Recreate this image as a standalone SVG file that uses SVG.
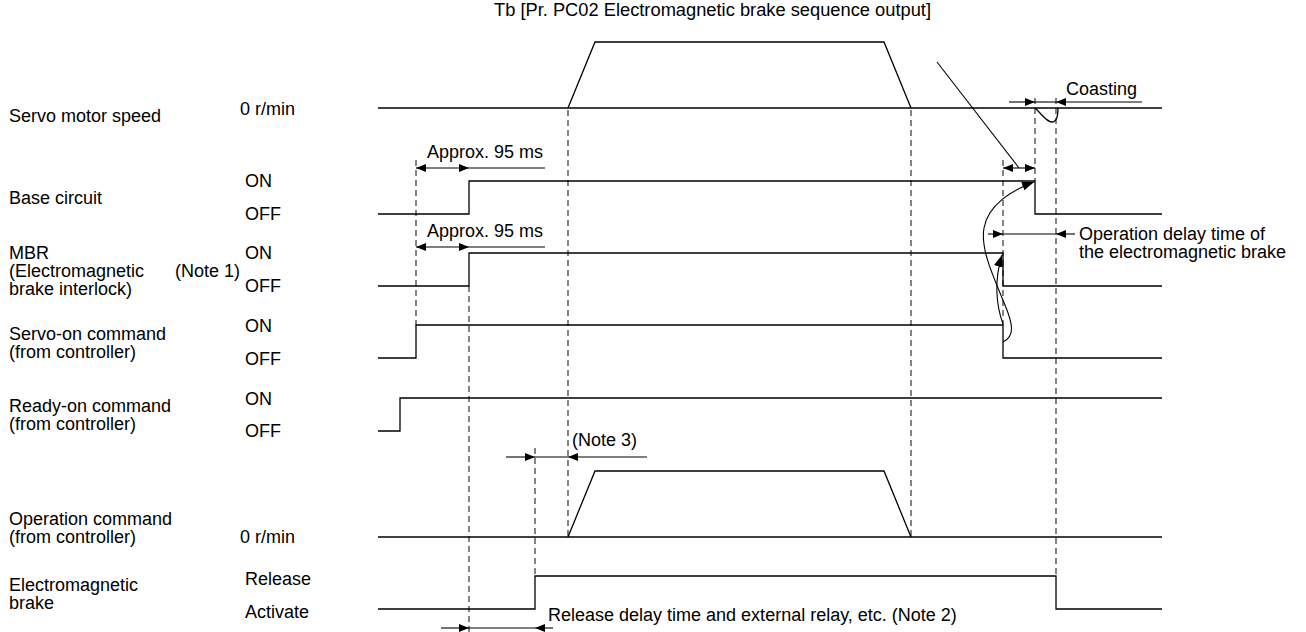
<svg xmlns="http://www.w3.org/2000/svg" width="1306" height="632" viewBox="0 0 1306 632">
<style>
text{font-family:"Liberation Sans",Arial,sans-serif;font-size:18px;fill:#000}
.sig{fill:none;stroke:#000;stroke-width:1.3}
.dash{fill:none;stroke:#333;stroke-width:1.2;stroke-dasharray:6 4}
.dim{fill:none;stroke:#000;stroke-width:1.1}
.arr{fill:none;stroke:#000;stroke-width:1.1;marker-end:url(#ah)}
.arr2{fill:none;stroke:#000;stroke-width:1.1;marker-start:url(#ah);marker-end:url(#ah)}
.crv{fill:none;stroke:#000;stroke-width:1.1;marker-end:url(#ahc)}
</style>
<defs>
<marker id="ah" markerUnits="userSpaceOnUse" markerWidth="10" markerHeight="8" viewBox="0 0 10 8" refX="10" refY="4" orient="auto-start-reverse">
<path d="M0,0 L10,4 L0,8 Z" fill="#000"/>
</marker>
<marker id="ahc" markerUnits="userSpaceOnUse" markerWidth="12" markerHeight="9" viewBox="0 0 12 9" refX="12" refY="4.5" orient="auto">
<path d="M0,0 L12,4.5 L0,9 Z" fill="#000"/>
</marker>
</defs>
<rect width="1306" height="632" fill="#fff"/>

<g id="guides">
<path class="dash" d="M416,160 V325"/>
<path class="dash" d="M469,286 V632"/>
<path class="dash" d="M535,448 V576"/>
<path class="dash" d="M568,110 V537"/>
<path class="dash" d="M911,110 V537"/>
<path class="dash" d="M1003,160 V325"/>
<path class="dash" d="M1035,98 V181"/>
<path class="dash" d="M1056,98 V576"/>
</g>

<g id="servo-motor-speed">
<text x="9" y="122">Servo motor speed</text>
<text x="240" y="115">0 r/min</text>
<path class="sig" d="M378,108 H1162"/>
<path class="sig" d="M568,108 L595,42 H884 L911,108"/>
<path class="sig" d="M1035,108 C1042,114 1046,122 1052,122 C1057,122 1058,114 1058,108"/>
</g>

<g id="base-circuit">
<text x="9" y="204">Base circuit</text>
<text x="245" y="187">ON</text>
<text x="245" y="220">OFF</text>
<path class="sig" d="M378,214 H469 V181 H1035 V214 H1162"/>
</g>

<g id="mbr">
<text x="9" y="259">MBR</text>
<text x="9" y="277">(Electromagnetic</text>
<text x="9" y="295">brake interlock)</text>
<text x="175" y="277">(Note 1)</text>
<text x="245" y="259">ON</text>
<text x="245" y="292">OFF</text>
<path class="sig" d="M378,286 H469 V253 H1003 V286 H1162"/>
</g>

<g id="servo-on">
<text x="9" y="340">Servo-on command</text>
<text x="9" y="358">(from controller)</text>
<text x="245" y="332">ON</text>
<text x="245" y="365">OFF</text>
<path class="sig" d="M378,358 H416 V325 H1003 V358 H1162"/>
</g>

<g id="ready-on">
<text x="9" y="412">Ready-on command</text>
<text x="9" y="430">(from controller)</text>
<text x="245" y="405">ON</text>
<text x="245" y="437">OFF</text>
<path class="sig" d="M378,431 H400 V398 H1162"/>
</g>

<g id="operation-command">
<text x="9" y="525">Operation command</text>
<text x="9" y="543">(from controller)</text>
<text x="240" y="543">0 r/min</text>
<path class="sig" d="M378,537 H1162"/>
<path class="sig" d="M568,537 L595,471 H884 L911,537"/>
</g>

<g id="electromagnetic-brake">
<text x="9" y="591">Electromagnetic</text>
<text x="9" y="609">brake</text>
<text x="245" y="585">Release</text>
<text x="245" y="618">Activate</text>
<path class="sig" d="M378,609 H535 V576 H1056 V609 H1162"/>
</g>

<g id="connectors">
<path class="arr2" d="M416,168 H469"/>
<path class="dim" d="M469,168 H545"/>
<text x="427" y="158">Approx. 95 ms</text>
<path class="arr2" d="M416,247 H469"/>
<path class="dim" d="M469,247 H545"/>
<text x="427" y="237">Approx. 95 ms</text>
<path class="arr2" d="M1003,168 H1035"/>
<path class="dim" d="M937,62 L1019,168"/>
<text x="494" y="16" style="font-size:18.3px">Tb [Pr. PC02 Electromagnetic brake sequence output]</text>
<path class="arr" d="M1009,102 H1035"/>
<path class="dim" d="M1035,102 H1056"/>
<path class="arr" d="M1142,102 H1056"/>
<text x="1066" y="95">Coasting</text>
<path class="arr" d="M988,234 H1003"/>
<path class="dim" d="M1003,234 H1056"/>
<path class="arr" d="M1075,234 H1056"/>
<text x="1079" y="240">Operation delay time of</text>
<text x="1079" y="258">the electromagnetic brake</text>
<path class="crv" d="M1003,342 C1016,336 1012,322 1005,305 C995,280 980,250 984,228 C988,205 1012,190 1034,182"/>
<path class="crv" d="M1003,324 C996,305 994,280 1002,255"/>
<path class="arr" d="M506,457 H535"/>
<path class="dim" d="M535,457 H568"/>
<path class="arr" d="M647,457 H568"/>
<text x="572" y="446">(Note 3)</text>
<path class="arr" d="M441,628 H469"/>
<path class="dim" d="M469,628 H535"/>
<path class="arr" d="M553,628 H535"/>
<text x="548" y="621">Release delay time and external relay, etc. (Note 2)</text>
</g>
</svg>
